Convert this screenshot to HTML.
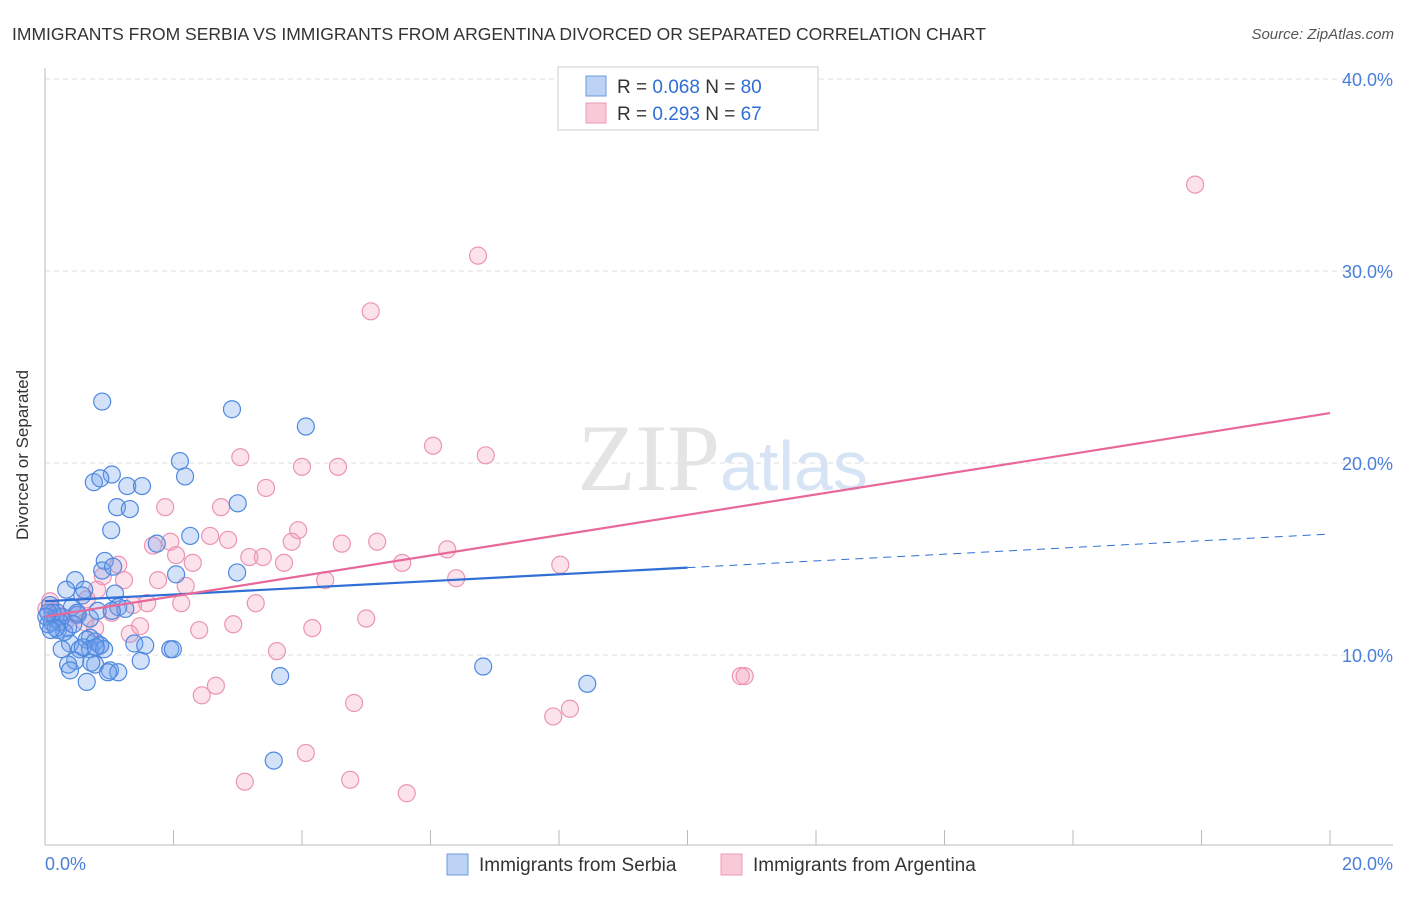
<!DOCTYPE html>
<html><head><meta charset="utf-8"><style>
body{margin:0;background:#fff;font-family:"Liberation Sans",sans-serif}
</style></head><body>
<svg width="1406" height="892" xmlns="http://www.w3.org/2000/svg" style="font-family:'Liberation Sans',sans-serif">
<text x="12" y="40" font-size="17.5" fill="#333">IMMIGRANTS FROM SERBIA VS IMMIGRANTS FROM ARGENTINA DIVORCED OR SEPARATED CORRELATION CHART</text>
<text x="1394" y="39" font-size="15" fill="#555" font-style="italic" text-anchor="end">Source: ZipAtlas.com</text>
<g id="grid"></g>
<text x="720" y="490" font-size="95" fill="#e4e4e4" font-family="Liberation Serif" text-anchor="end">ZIP</text>
<text x="720" y="490" font-size="70" fill="#d6e4f5">atlas</text>
<line x1="45" y1="68" x2="45" y2="845" stroke="#bbb"/>
<line x1="45" y1="845" x2="1393" y2="845" stroke="#bbb"/>
<g id="ticks"></g>
<g id="pts"></g>
<g id="trends"></g>
<text x="28" y="455" font-size="17" fill="#333" transform="rotate(-90 28 455)" text-anchor="middle">Divorced or Separated</text>
<text x="45" y="870" font-size="18" fill="#4a7fd8">0.0%</text>
<text x="1393" y="870" font-size="18" fill="#4a7fd8" text-anchor="end">20.0%</text>
<g>
<rect x="558" y="67" width="260" height="63" fill="#fff" stroke="#ccc"/>
<rect x="586" y="76" width="20" height="20" fill="#bcd3f5" stroke="#6d9be0"/>
<rect x="586" y="103" width="20" height="20" fill="#f9c9d8" stroke="#ea9ab5"/>
<text x="617" y="93" font-size="19" fill="#333">R = <tspan fill="#2f6fd6">0.068</tspan>    N = <tspan fill="#2f6fd6">80</tspan></text>
<text x="617" y="120" font-size="19" fill="#333">R =  <tspan fill="#2f6fd6">0.293</tspan>    N =  <tspan fill="#2f6fd6">67</tspan></text>
</g>
<g>
<rect x="447" y="854" width="21" height="21" fill="#bcd3f5" stroke="#6d9be0"/>
<text x="479" y="871" font-size="19" fill="#333">Immigrants from Serbia</text>
</g>
<g>
<rect x="721" y="854" width="21" height="21" fill="#f9c9d8" stroke="#ea9ab5"/>
<text x="753" y="871" font-size="19" fill="#333">Immigrants from Argentina</text>
</g>
</svg>
<script>
const yTicks=[10,20,30,40];
const yTickLabels=["10.0%","20.0%","30.0%","40.0%"];
const xTicks=[2,4,6,8,10,12,14,16,18,20];
const serbiaX=[0.89,2.91,4.06,2.10,2.18,1.04,0.76,0.86,1.28,1.51,3.00,1.12,1.32,1.03,1.74,2.26,0.93,0.89,1.06,2.04,2.99,0.47,0.33,0.61,0.58,1.09,0.08,0.19,0.42,0.82,1.14,1.25,0.16,0.26,0.51,0.05,0.20,0.36,0.11,0.70,0.65,0.78,0.39,0.86,0.54,0.70,1.39,1.56,0.26,1.95,1.99,0.47,0.36,0.78,1.01,1.14,0.98,1.49,0.39,0.65,3.66,6.82,8.44,3.56,0.12,0.23,0.30,0.05,0.17,0.86,0.59,0.72,0.92,0.50,0.70,0.02,0.09,0.44,0.79,1.04];
const serbiaY=[23.2,22.8,21.9,20.1,19.3,19.4,19.0,19.2,18.8,18.8,17.9,17.7,17.6,16.5,15.8,16.2,14.9,14.4,14.6,14.2,14.3,13.9,13.4,13.4,13.1,13.2,12.6,12.2,12.5,12.3,12.5,12.4,11.9,12.0,12.1,11.6,11.3,11.4,11.7,10.9,10.8,10.7,10.6,10.5,10.3,10.3,10.6,10.5,10.3,10.3,10.3,9.7,9.5,9.5,9.2,9.1,9.1,9.7,9.2,8.6,8.9,9.4,8.5,4.5,12.2,11.7,11.2,12.2,11.4,10.5,10.4,9.6,10.3,12.2,11.9,12.0,11.3,11.6,10.4,12.3];
const argX=[17.90,6.74,5.07,6.04,6.86,3.04,4.00,4.56,3.44,1.87,2.74,3.94,2.57,2.85,3.84,4.62,5.17,1.68,1.95,2.04,2.30,3.18,3.39,3.72,5.56,6.26,8.02,1.14,0.90,1.23,1.76,2.19,4.36,6.40,0.81,0.65,1.59,2.12,3.28,1.37,1.04,5.00,2.93,1.48,2.40,4.16,1.32,0.78,3.61,10.83,10.89,2.66,2.44,4.81,8.17,7.91,4.06,3.11,4.75,5.63,0.08,0.16,0.23,0.31,0.47,0.62,0.02];
const argY=[34.5,30.8,27.9,20.9,20.4,20.3,19.8,19.8,18.7,17.7,17.7,16.5,16.2,16.0,15.9,15.8,15.9,15.7,15.9,15.2,14.8,15.1,15.1,14.8,14.8,15.5,14.7,14.7,14.1,13.9,13.9,13.6,13.9,14.0,13.4,12.9,12.7,12.7,12.7,12.6,12.2,11.9,11.6,11.5,11.3,11.4,11.1,11.4,10.2,8.9,8.9,8.4,7.9,7.5,7.2,6.8,4.9,3.4,3.5,2.8,12.8,12.3,12.0,11.7,12.1,11.7,12.4];
const serbiaTrend=[12.8,16.3];
const argTrend=[12.0,22.6];
const NS="http://www.w3.org/2000/svg";
const xs=v=>45+v*64.25, ys=v=>847-v*19.2;
function mk(t,a,p){const e=document.createElementNS(NS,t);for(const k in a)e.setAttribute(k,a[k]);document.getElementById(p).appendChild(e);return e;}
yTicks.forEach((t,i)=>{
 const l=mk('line',{x1:45,x2:1393,y1:ys(t),y2:ys(t),stroke:'#ddd','stroke-dasharray':'5,4'},'grid');
 
 
 const tx=mk('text',{x:1393,y:ys(t)+7,'font-size':18,fill:'#4a7fd8','text-anchor':'end'},'grid');
 tx.textContent=yTickLabels[i];
 
 
});
xTicks.forEach(t=>{
 const l=mk('line',{x1:xs(t),x2:xs(t),y1:830,y2:845,stroke:'#bbb'},'ticks');
 
 
});
argX.forEach((x,i)=>{
 const c=mk('circle',{cx:xs(x),cy:ys(argY[i]),r:8.5,fill:'rgba(242,160,190,0.3)',stroke:'#ec95b3','stroke-width':1.2},'pts');
 
 
});
serbiaX.forEach((x,i)=>{
 const c=mk('circle',{cx:xs(x),cy:ys(serbiaY[i]),r:8.5,fill:'rgba(110,160,235,0.3)',stroke:'#4f88df','stroke-width':1.2},'pts');
 
 
});
const sAt=x=>serbiaTrend[0]+(serbiaTrend[1]-serbiaTrend[0])*x/20;
let t1=mk('line',{x1:xs(0),y1:ys(sAt(0)),x2:xs(10),y2:ys(sAt(10)),stroke:'#2f6fd6','stroke-width':2.2},'trends');


let t2=mk('line',{x1:xs(10),y1:ys(sAt(10)),x2:xs(20),y2:ys(sAt(20)),stroke:'#2f6fd6','stroke-width':1,'stroke-dasharray':'8,6'},'trends');


let t3=mk('line',{x1:xs(0),y1:ys(argTrend[0]),x2:xs(20),y2:ys(argTrend[1]),stroke:'#e8689a','stroke-width':2.2},'trends');


</script>
</body></html>
